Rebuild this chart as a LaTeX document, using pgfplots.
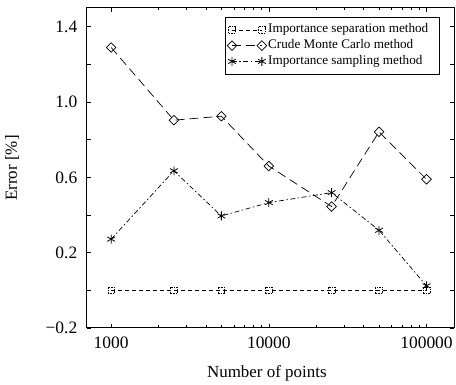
\documentclass[border=0pt]{standalone}
\usepackage{pgfplots}
\pgfplotsset{compat=1.18}
\usepackage{fontspec}
\setmainfont{Liberation Serif}
\begin{document}
\begin{tikzpicture}
\begin{axis}[
  scale only axis,
  width=368.7pt, height=321pt,
  xmode=log,
  xmin=700, xmax=150000,
  ymin=-0.2, ymax=1.5,
  xtick={1000,10000,100000},
  xticklabels={1000,10000,100000},
  ytick={-0.2,0,0.2,0.4,0.6,0.8,1.0,1.2,1.4},
  yticklabels={−0.2,,0.2,,0.6,,1.0,,1.4},
  tick align=inside,
  major tick length=4pt,
  minor tick length=2.5pt,
  axis line style={line width=1pt},
  every tick/.style={black, line width=0.6pt},
  tick label style={font=\fontsize{17.5}{17.5}\selectfont},
  yticklabel style={xshift=-6pt},
  xticklabel style={yshift=-5pt},
  /pgf/number format/assume math mode=true,
  xlabel={Number of points},
  ylabel={Error [\%]},
  label style={font=\fontsize{17}{17}\selectfont},
  xlabel style={at={(axis description cs:0.49,-0.156)}, anchor=base},
  ylabel style={at={(axis description cs:-0.203,0.5)}, anchor=center},
  legend style={at={(0.959,0.973)}, anchor=north east,
    font=\fontsize{13.2}{13.2}\selectfont, draw=black, line width=0.6pt,
    inner xsep=0pt, inner ysep=7pt, row sep=3.8pt, column sep=0pt,
    nodes={inner xsep=0pt, inner ysep=0pt, text height=9pt, text depth=3pt}},
  legend cell align=left,
  legend image code/.code={
    \path (-6pt,0pt) (36pt,0pt);
    \draw[#1] plot coordinates {(0pt,0pt) (30pt,0pt)};
  },
]
\addplot[black, line width=0.7pt, dash pattern=on 4pt off 3pt,
  mark=square, mark size=3.3pt, mark options={line width=0.6pt, dash pattern=on 1.5pt off 1pt}]
  coordinates {(1000,0) (2500,0) (5000,0) (10000,0) (25000,0) (50000,0) (100000,0)};
\addlegendentry{Importance separation method\rule{10.7pt}{0pt}}
\addplot[black, line width=0.7pt, dash pattern=on 9pt off 5pt,
  mark=square, mark size=3.4pt, mark options={solid, rotate=45, line width=0.7pt}]
  coordinates {(1000,1.29) (2500,0.904) (5000,0.925) (10000,0.66) (25000,0.445) (50000,0.842) (100000,0.59)};
\addlegendentry{Crude Monte Carlo method}
\addplot[black, line width=0.7pt, dash pattern=on 5pt off 2.5pt on 1.5pt off 2.5pt,
  mark=asterisk, mark size=4.5pt, mark options={solid, line width=0.8pt}]
  coordinates {(1000,0.272) (2500,0.635) (5000,0.395) (10000,0.466) (25000,0.519) (50000,0.319) (100000,0.024)};
\addlegendentry{Importance sampling method}
\end{axis}
\path (current axis.south west) ++(-87pt,-56pt) coordinate (bl);
\path (current axis.north east) ++(0.3pt,8pt) coordinate (tr);
\useasboundingbox (bl) rectangle (tr);
\end{tikzpicture}
\end{document}
